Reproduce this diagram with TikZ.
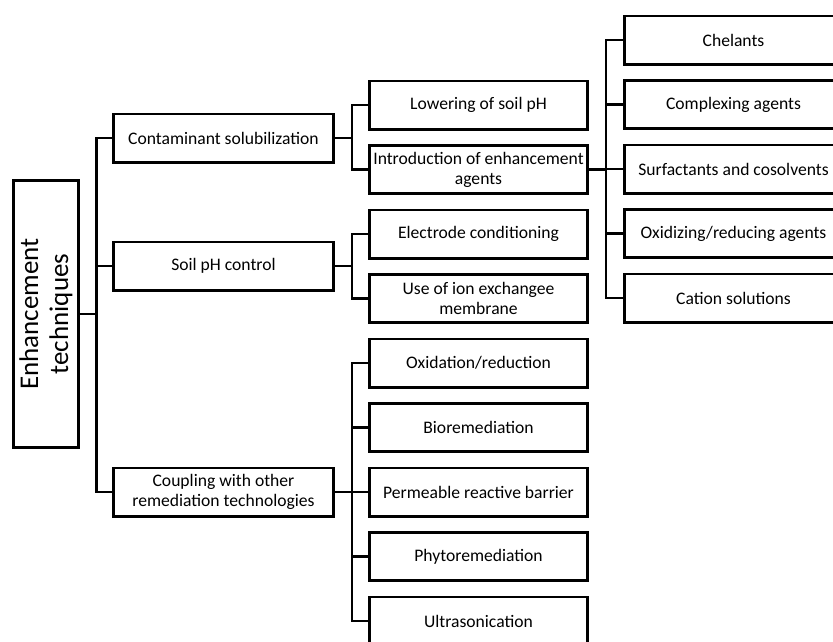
\documentclass[tikz,border=0pt]{standalone}
\usepackage{fontspec}
\setmainfont{Carlito}
\usetikzlibrary{positioning}

\begin{document}
\begin{tikzpicture}[
  x=1pt, y=-1pt,
  node distance=13.5pt,
  box/.style={draw, line width=2.8pt, align=center, inner sep=1.5pt,
    minimum width=218.2pt, minimum height=48.2pt,
    font=\fontsize{17.6}{20}\selectfont},
  topbox/.style={box, minimum width=220.2pt},
  link/.style={line width=2.8pt}
]
\useasboundingbox (0,0) rectangle (833,641);

% root
\node[draw, line width=2.8pt, rotate=90, align=center,
  minimum width=267.5pt, minimum height=65.5pt,
  font=\fontsize{27}{30}\selectfont] (root) at (46,314) {Enhancement\\techniques};

% first level
\node[topbox] (sol) at (223.5,138) {Contaminant solubilization};
\node[topbox] (ph) at (223.5,266) {Soil pH control};
\node[topbox] (coup) at (223.5,492) {Coupling with other\\remediation technologies};

% second level
\node[box] (lower) at (478.5,105) {Lowering of soil pH};
\node[box, below=of lower] (intro) {Introduction of enhancement\\agents};
\node[box, below=of intro] (elec) {Electrode conditioning};
\node[box, below=of elec] (ion) {Use of ion exchangee\\membrane};
\node[box, below=of ion] (oxid) {Oxidation/reduction};
\node[box, below=of oxid] (bio) {Bioremediation};
\node[box, below=of bio] (perm) {Permeable reactive barrier};
\node[box, below=of perm] (phyto) {Phytoremediation};
\node[box, below=of phyto] (ultra) {Ultrasonication};

% third level
\node[box] (chel) at (733.5,40) {Chelants};
\node[box, below=of chel] (compl) {Complexing agents};
\node[box, below=of compl] (surf) {Surfactants and cosolvents};
\node[box, below=of surf] (oxred) {Oxidizing/reducing agents};
\node[box, below=of oxred] (cat) {Cation solutions};

% connectors
\foreach \n in {sol,ph,coup}
  \draw[link] (root.south) -- ++(16,0) |- (\n.west);
\foreach \n in {lower,intro}
  \draw[link] (sol.east) -- ++(17,0) |- (\n.west);
\foreach \n in {elec,ion}
  \draw[link] (ph.east) -- ++(17,0) |- (\n.west);
\foreach \n in {oxid,bio,perm,phyto,ultra}
  \draw[link] (coup.east) -- ++(17,0) |- (\n.west);
\foreach \n in {chel,compl,surf,oxred,cat}
  \draw[link] (intro.east) -- ++(17,0) |- (\n.west);
\end{tikzpicture}
\end{document}
